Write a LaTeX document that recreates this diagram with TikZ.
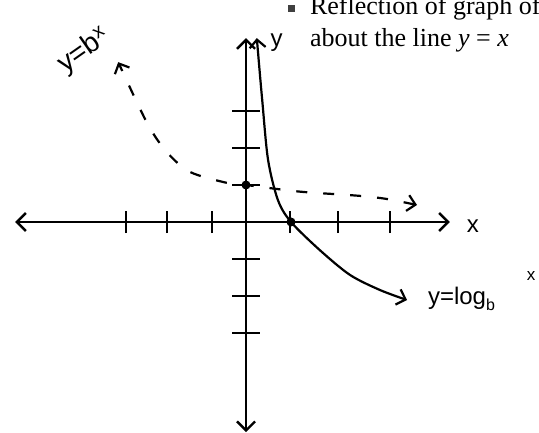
\documentclass[tikz,border=0pt]{standalone}
\usepackage{fontspec}
\setmainfont{Liberation Serif}
\setsansfont{Liberation Sans}
\usetikzlibrary{arrows.meta}

\begin{document}
\begin{tikzpicture}[
x=45pt, y=37pt,
axis/.style={line width=2.4pt, {Straight Barb[length=9pt,width=18pt]}-{Straight Barb[length=9pt,width=18pt]}},
graphline/.style={line width=2.2pt, {Straight Barb[length=8pt,width=16pt]}-{Straight Barb[length=8pt,width=16pt]}},
tick/.style={line width=2pt},
dot/.style={circle, fill, inner sep=0pt, minimum size=9pt},
hand/.style={font=\sffamily\fontsize{24}{26}\selectfont},
printed/.style={font=\fontsize{26}{32}\selectfont, inner sep=0pt, anchor=base west}
]
\useasboundingbox (-5.467,-5.703) rectangle (6.511,6.0);

% axes
\coordinate (xleft) at (-5.13,0);
\coordinate (xright) at (4.53,0);
\coordinate (ytop) at (0,4.97);
\coordinate (ybottom) at (0,-5.68);
\draw[axis] (xleft) -- (xright);
\draw[axis] (ybottom) -- (ytop);
\foreach \t in {-2.67,-1.76,-0.76,0.98,2.04,3.2}
  \draw[tick] (\t,-0.3) -- (\t,0.3);
\foreach \t in {-3,-2,-1,1,2,3}
  \draw[tick] (-0.31,\t) -- (0.31,\t);
\node[hand] (xlbl) at (5.04,-0.1) {x};
\node[hand] (ylbl) at (0.68,4.85) {y};

% y = b^x, dashed
\draw[graphline, dash pattern=on 11pt off 16pt] plot[smooth] coordinates
  {(3.8,0.46) (2.76,0.68) (1.2,0.82) (0,1) (-0.4,1.05) (-1.24,1.35) (-1.76,1.89) (-2.2,2.68) (-2.84,4.32)};
% y = log_b x
\draw[graphline] plot[smooth] coordinates
  {(0.24,4.97) (0.36,3.30) (0.49,1.68) (0.71,0.59) (1,0) (1.64,-0.76) (2.31,-1.43) (2.98,-1.84) (3.58,-2.11)};
\node[dot] (yint) at (0,1) {};
\node[dot] (xint) at (1,0) {};

\node[hand, rotate=35, font=\sffamily\fontsize{28}{30}\selectfont] (explbl) at (-3.6,4.62) {y=b\textsuperscript{x}};
\node[hand, anchor=base west, inner sep=0pt] (loglbl) at (4.04,-2.24)
  {y=log\raisebox{-6pt}{\fontsize{16}{16}\selectfont b}\hspace{32pt}\raisebox{24pt}{\fontsize{17}{17}\selectfont x}};

% printed caption
\node[fill=black!75, minimum size=7pt, inner sep=0pt] (bullet) at (1.02,5.78) {};
\node[printed] (line1) at (1.42,5.595) {Reflection of graph of};
\node[printed] (line2) at (1.42,4.73) {about the line \textit{y} = \textit{x}};
\end{tikzpicture}
\end{document}
